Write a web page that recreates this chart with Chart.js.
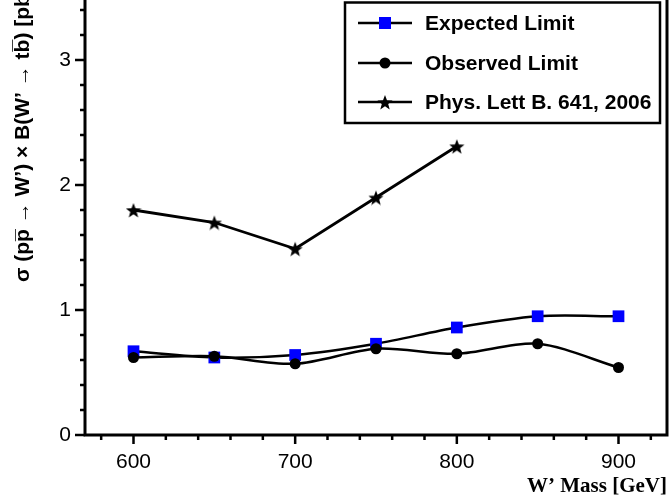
<!DOCTYPE html>
<html>
<head>
<meta charset="utf-8">
<script src="https://cdn.jsdelivr.net/npm/chart.js@4"></script>
<style>
    html, body { margin: 0; padding: 0; background: #fff; }
    canvas { display: block; }
</style>
</head>
<body>
<canvas id="limitChart" width="672" height="499"></canvas>
<script>
const massPoints = [600, 650, 700, 750, 800, 850, 900];
const expectedLimit = [0.67, 0.62, 0.64, 0.73, 0.86, 0.95, 0.95];
const observedLimit = [0.62, 0.63, 0.57, 0.69, 0.65, 0.73, 0.54];
const prevMassPoints = [600, 650, 700, 750, 800];
const prevLimit = [1.80, 1.70, 1.49, 1.90, 2.31];
const xTickValues = [600, 700, 800, 900];
const yTickValues = [0, 1, 2, 3];
const legendLabels = ['Expected Limit', 'Observed Limit', 'Phys. Lett B. 641, 2006'];
const yTitle = '\u03c3 (pp\u0305 \u2192 W\u2019) \u00d7 B(W\u2019 \u2192 tb\u0305) [pb]';

const sansFont = "'Liberation Sans', Arial, Helvetica, sans-serif";
const serifFont = "'Liberation Serif', 'Times New Roman', Times, serif";
const blue = '#0000ff';

function toPoints(xs, ys) {
    return xs.map((x, i) => ({ x: x, y: ys[i] }));
}

function makeStar(size) {
    const c = document.createElement('canvas');
    c.width = size;
    c.height = size;
    const g = c.getContext('2d');
    const r = size / 2, ri = r * 0.42;
    g.beginPath();
    for (let i = 0; i < 10; i++) {
        const rad = i % 2 === 0 ? r : ri;
        const a = -Math.PI / 2 + i * Math.PI / 5;
        g.lineTo(r + rad * Math.cos(a), r + 1 + rad * Math.sin(a));
    }
    g.closePath();
    g.fillStyle = '#000';
    g.fill();
    return c;
}

const starImg = makeStar(16);

// frame, ROOT style ticks, y title and the boxed legend
const framePlugin = {
    id: 'framePlugin',
    afterDraw(chart) {
        const { ctx, chartArea, scales } = chart;
        const { left, right, bottom, top } = chartArea;
        ctx.save();
        ctx.strokeStyle = '#000';
        ctx.lineWidth = 3;
        ctx.beginPath();
        ctx.moveTo(left, top - 2);
        ctx.lineTo(left, bottom);
        ctx.lineTo(right, bottom);
        ctx.lineTo(right, top - 2);
        ctx.stroke();

        ctx.lineWidth = 2.5;
        ctx.beginPath();
        for (let v = 580; v <= 920; v += 20) {
            const px = scales.x.getPixelForValue(v);
            const len = v % 100 === 0 ? 9 : 5;
            ctx.moveTo(px, bottom);
            ctx.lineTo(px, bottom + len);
        }
        for (let i = 0; i <= 17; i++) {
            const py = scales.y.getPixelForValue(i * 0.2);
            const len = i % 5 === 0 ? 10 : 5;
            ctx.moveTo(left, py);
            ctx.lineTo(left - len, py);
        }
        ctx.stroke();

        // y title runs off the top like in the original
        ctx.save();
        ctx.translate(23, 282);
        ctx.rotate(-Math.PI / 2);
        ctx.font = 'bold 21px ' + sansFont;
        ctx.textAlign = 'left';
        ctx.textBaseline = 'middle';
        ctx.fillStyle = '#000';
        ctx.fillText(yTitle, 0, 0);
        ctx.restore();

        // legend
        const box = { x: 345, y: 2.5, w: 315, h: 120.5 };
        ctx.fillStyle = '#fff';
        ctx.fillRect(box.x, box.y, box.w, box.h);
        ctx.lineWidth = 2.5;
        ctx.strokeRect(box.x, box.y, box.w, box.h);

        const rows = [23, 63, 102];
        ctx.font = 'bold 21px ' + sansFont;
        ctx.textBaseline = 'middle';
        rows.forEach((ry, i) => {
            ctx.strokeStyle = '#000';
            ctx.lineWidth = 2.5;
            ctx.beginPath();
            ctx.moveTo(358, ry);
            ctx.lineTo(412, ry);
            ctx.stroke();
            if (i === 0) {
                ctx.fillStyle = blue;
                ctx.fillRect(379, ry - 6, 12, 12);
            } else if (i === 1) {
                ctx.fillStyle = '#000';
                ctx.beginPath();
                ctx.arc(385, ry, 5.5, 0, Math.PI * 2);
                ctx.fill();
            } else {
                ctx.drawImage(starImg, 377, ry - 8, 16, 16);
            }
            ctx.fillStyle = '#000';
            ctx.fillText(legendLabels[i], 425, ry + 1);
        });
        ctx.restore();
    }
};

function renderChart() {
    const ctx = document.getElementById('limitChart').getContext('2d');

    new Chart(ctx, {
        type: 'line',
        data: {
            datasets: [
                {
                    label: legendLabels[1],
                    data: toPoints(massPoints, observedLimit),
                    borderColor: '#000',
                    borderWidth: 2.5,
                    tension: 0.3,
                    pointStyle: 'circle',
                    pointRadius: 5.5,
                    pointBackgroundColor: '#000',
                    pointBorderColor: '#000',
                    pointBorderWidth: 0,
                    order: 0
                },
                {
                    label: legendLabels[0],
                    data: toPoints(massPoints, expectedLimit),
                    borderColor: '#000',
                    borderWidth: 2.5,
                    tension: 0.3,
                    pointStyle: 'rect',
                    pointRadius: 8.3,
                    pointBackgroundColor: blue,
                    pointBorderColor: blue,
                    pointBorderWidth: 0,
                    order: 1
                },
                {
                    label: legendLabels[2],
                    data: toPoints(prevMassPoints, prevLimit),
                    borderColor: '#000',
                    borderWidth: 2.8,
                    tension: 0,
                    pointStyle: starImg,
                    pointRadius: 8,
                    order: 2
                }
            ]
        },
        options: {
            responsive: false,
            animation: false,
            devicePixelRatio: 1,
            layout: { autoPadding: false, padding: { left: 0, right: 5, top: 0, bottom: 0 } },
            plugins: {
                legend: { display: false },
                tooltip: { enabled: false }
            },
            scales: {
                x: {
                    type: 'linear',
                    min: 570,
                    max: 930,
                    grid: { display: false, drawTicks: false },
                    border: { display: false },
                    ticks: {
                        color: '#000',
                        font: { family: sansFont, size: 21 },
                        padding: 15
                    },
                    afterBuildTicks: scale => {
                        scale.ticks = xTickValues.map(v => ({ value: v }));
                    },
                    afterFit: scale => {
                        scale.height = 64;
                        scale.paddingLeft = 0;
                        scale.paddingRight = 0;
                    },
                    title: {
                        display: true,
                        text: 'W\u2019 Mass [GeV]',
                        align: 'end',
                        color: '#000',
                        font: { family: serifFont, size: 21, weight: 'bold' },
                        padding: { top: 0, bottom: 0 }
                    }
                },
                y: {
                    min: 0,
                    max: 3.48,
                    grid: { display: false, drawTicks: false },
                    border: { display: false },
                    ticks: {
                        color: '#000',
                        font: { family: sansFont, size: 21 },
                        padding: 14
                    },
                    afterBuildTicks: scale => {
                        scale.ticks = yTickValues.map(v => ({ value: v }));
                    },
                    afterFit: scale => {
                        scale.width = 85;
                        scale.paddingTop = 0;
                        scale.paddingBottom = 0;
                    },
                    title: { display: false }
                }
            }
        },
        plugins: [framePlugin]
    });
}

document.addEventListener('DOMContentLoaded', renderChart);
</script>
</body>
</html>
